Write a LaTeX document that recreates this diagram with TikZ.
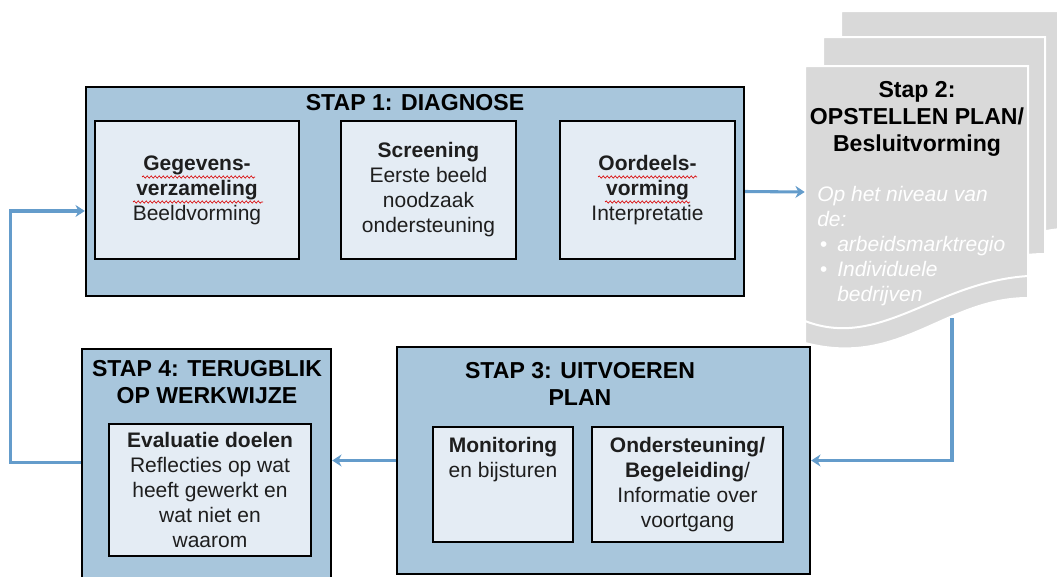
\documentclass[tikz,border=0pt]{standalone}
\usepackage{fontspec}
\setmainfont{Liberation Sans}
\usetikzlibrary{arrows.meta,decorations.pathmorphing}
\definecolor{stapblue}{RGB}{168,198,220}
\definecolor{boxblue}{RGB}{228,236,244}
\definecolor{flowblue}{RGB}{100,156,203}
\definecolor{pagegrey}{RGB}{217,217,217}
\definecolor{txtgrey}{RGB}{30,30,30}
\newcommand{\bodyfont}{\fontsize{15.75}{18.75}\selectfont}
\newcommand{\titlefont}{\fontsize{17.3}{20}\selectfont\bfseries}
\begin{document}
\begin{tikzpicture}[x=0.75pt,y=-0.75pt,
	stap/.style={draw=black, line width=1.8pt, fill=stapblue, inner sep=0pt},
	sub/.style={draw=black, line width=1.4pt, fill=boxblue, inner sep=0pt, align=center, text=txtgrey, font=\bodyfont},
	title/.style={align=center, inner sep=0pt, font=\titlefont},
	flow/.style={draw=flowblue, line width=2.3pt, -{Stealth[length=7pt,width=9pt]}},
	page/.style={fill=pagegrey, draw=white, line width=1.5pt},
	spell/.style={draw=red!85!black, line width=0.5pt, decorate, decoration={snake, amplitude=0.8pt, segment length=3pt}}]
		\useasboundingbox (0,0) rectangle (1057,576);

		% stap 2: stack of pages
		\draw[page] (841,11) -- (1080,11) -- (1080,228) .. controls (990,228) and (950,290) .. (841,270) -- cycle;
		\draw[page] (823,37) -- (1045,37) -- (1045,254) .. controls (960,254) and (920,320) .. (823,300) -- cycle;
		\draw[page] (805,66) -- (1028,66) -- (1028,298) .. controls (945,298) and (900,368) .. (805,343) -- cycle;
		\draw[white, line width=1.5pt] (805,321) .. controls (880,350) and (935,282) .. (1028,276);
		\node[minimum width=167.25pt, minimum height=189pt, inner sep=0pt] at (916.5,192) (s2) {};
		\node[title] at (917,119) (s2t) {Stap 2:\\OPSTELLEN PLAN/\\Besluitvorming};
		\node[anchor=north west, inner sep=0pt, align=left, text=white, font=\bodyfont\itshape] at (817,186) (s2b)
			{Op het niveau van\\de:\\\hspace*{2pt}\makebox[13pt][l]{\textbullet}arbeidsmarktregio\\\hspace*{2pt}\makebox[13pt][l]{\textbullet}Individuele\\\hspace*{15pt}bedrijven};

		% stap 1
		\node[stap, minimum width=493.5pt, minimum height=156.75pt] at (415,191.5) (s1) {};
		\node[title] at (415,103) (s1t) {STAP 1: DIAGNOSE};
		\node[sub, minimum width=153pt, minimum height=103.5pt] at (197,190) (geg) {\textbf{Gegevens-}\\\textbf{verzameling}\\Beeldvorming};
		\node[sub, minimum width=131.25pt, minimum height=103.5pt] at (428.5,190) (scr) {\textbf{Screening}\\Eerste beeld\\noodzaak\\ondersteuning};
		\node[sub, minimum width=131.25pt, minimum height=103.5pt] at (647.5,190) (oor) {\textbf{Oordeels-}\\\textbf{vorming}\\Interpretatie};
		\draw[spell] (142,177) -- (255,177);
		\draw[spell] (133,202) -- (263,202);
		\draw[spell] (598,177) -- (697,177);
		\draw[spell] (605,202) -- (690,202);

		% stap 3
		\node[stap, minimum width=309.75pt, minimum height=170.25pt] at (603.5,460.5) (s3) {};
		\node[title] at (580,384) (s3t) {STAP 3: UITVOEREN\\PLAN};
		\node[sub, minimum width=105pt, minimum height=86.25pt] at (503,484.5) (mon) {};
		\node[anchor=north, inner sep=0pt, align=center, text=txtgrey, font=\bodyfont] at ([yshift=-8pt]mon.north) (mont) {\textbf{Monitoring}\\en bijsturen};
		\node[sub, minimum width=143.25pt, minimum height=86.25pt] at (687.5,484.5) (ond) {};
		\node[anchor=north, inner sep=0pt, align=center, text=txtgrey, font=\bodyfont] at ([yshift=-8pt]ond.north) (ondt) {\textbf{Ondersteuning/}\\\textbf{Begeleiding}/\\Informatie over\\voortgang};

		% stap 4
		\node[stap, minimum width=186.75pt, minimum height=174pt] at (206.5,465) (s4) {};
		\node[title] at (207,382) (s4t) {STAP 4: TERUGBLIK\\OP WERKWIJZE};
		\node[sub, minimum width=151.5pt, minimum height=99pt] at (210,490) (evl) {\textbf{Evaluatie doelen}\\Reflecties op wat\\heeft gewerkt en\\wat niet en\\waarom};

		% flow
		\draw[flow] (s1.east) -- (s2.west);
		\draw[flow] ([xshift=26.6pt]s2.south) |- (s3.east);
		\draw[flow] (s3.west) -- (s3.west -| s4.east);
		\draw[flow] ([yshift=2pt]s4.west) -- ++(-70,0) |- ([yshift=-14.6pt]s1.west);
	\end{tikzpicture}
\end{document}
